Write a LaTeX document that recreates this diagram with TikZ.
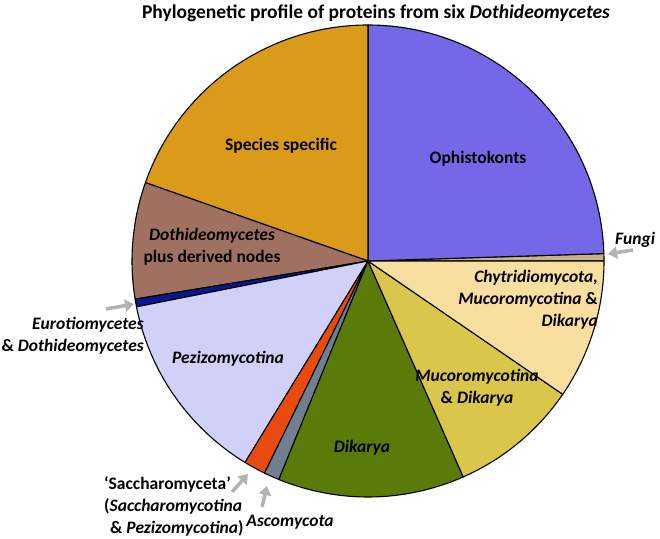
\documentclass[tikz,border=0pt]{standalone}
\usepackage{fontspec}
\setmainfont{Carlito}
\usetikzlibrary{arrows.meta}
\begin{document}
\begin{tikzpicture}[x=1pt,y=1pt,
  slice/.style={draw=black,line width=1.1pt,line join=round},
  lab/.style={font=\bfseries\fontsize{17.5}{22}\selectfont,align=center,inner sep=0pt},
  pointer/.style={draw=black!30,line width=3.5pt,-{Triangle[length=9pt,width=12pt]}}]
\useasboundingbox (0,0) rectangle (660,538);
\definecolor{cOph}{HTML}{7468E8}\definecolor{cFun}{HTML}{C8B08A}
\definecolor{cChy}{HTML}{F8DFA0}\definecolor{cMuc}{HTML}{D9C64A}
\definecolor{cDik}{HTML}{5A7A0A}\definecolor{cAsc}{HTML}{708090}
\definecolor{cSac}{HTML}{E84A10}\definecolor{cPez}{HTML}{D0D0F8}
\definecolor{cEur}{HTML}{0A1890}\definecolor{cDot}{HTML}{A07060}
\definecolor{cSpe}{HTML}{DA9A1A}
\coordinate (c) at (368,277);
\foreach \a/\b/\col in {0/1.8/cFun,1.8/90/cOph,90/160.6/cSpe,160.6/189.3/cDot,189.3/191.2/cEur,191.2/238.6/cPez,238.6/244/cSac,244/247.8/cAsc,247.8/293.8/cDik,293.8/325.6/cMuc,325.6/360/cChy}
  \filldraw[slice,fill=\col] (c) -- ++(\a:236pt) arc[start angle=\a,end angle=\b,radius=236pt] -- cycle;
\node[font=\bfseries\fontsize{19.5}{22}\selectfont] (title) at (376,525) {Phylogenetic profile of proteins from six \textit{Dothideomycetes}};
\node[lab] (spe) at (281,392) {Species specific};
\node[lab] (oph) at (478,379) {Ophistokonts};
\node[lab,anchor=west] (fun) at (615,298) {\textit{Fungi}};
\node[lab,align=right,anchor=east] (chy) at (598,238) {\textit{Chytridiomycota,}\\\textit{Mucoromycotina} \&\\\textit{Dikarya}};
\node[lab] (muc) at (477,150) {\textit{Mucoromycotina}\\\& \textit{Dikarya}};
\node[lab] (dik) at (362,90) {\textit{Dikarya}};
\node[lab] (pez) at (228,179) {\textit{Pezizomycotina}};
\node[lab] (dot) at (212,291) {\textit{Dothideomycetes}\\plus derived nodes};
\node[lab,align=right,anchor=east] (eur) at (144,202) {\textit{Eurotiomycetes}\\\& \textit{Dothideomycetes}};
\node[lab,align=left,anchor=west] (sac) at (104,32) {‘Saccharomyceta’\\(\textit{Saccharomycotina}\\\hspace*{6pt}\& \textit{Pezizomycotina})};
\node[lab] (asc) at (290,16) {\textit{Ascomycota}};
\coordinate (fa) at (633,288); \coordinate (fb) at (608,284);
\coordinate (ea) at (106,229); \coordinate (eb) at (134,234);
\coordinate (sa) at (232,46); \coordinate (sb) at (248,64);
\coordinate (aa) at (262,31); \coordinate (ab) at (267,52);
\draw[pointer] (fa) -- (fb);
\draw[pointer] (ea) -- (eb);
\draw[pointer] (sa) -- (sb);
\draw[pointer] (aa) -- (ab);
\end{tikzpicture}
\end{document}
